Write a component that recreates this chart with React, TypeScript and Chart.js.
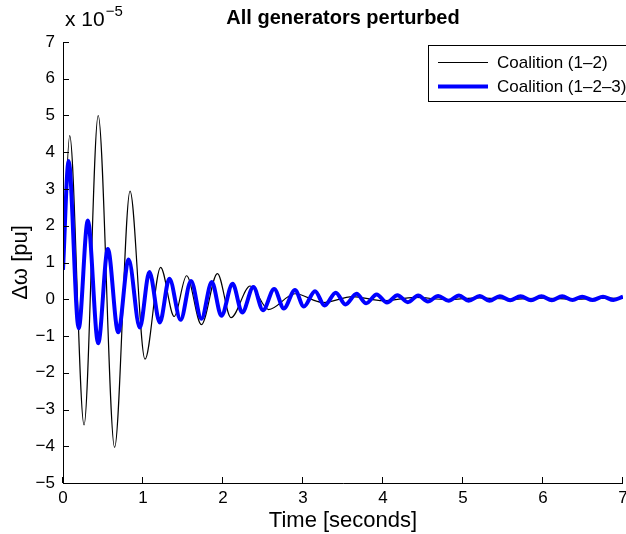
import { useEffect, useRef } from 'react';
import Chart from 'chart.js/auto';

// Values in units of 1e-5 pu
const blackTime = [0, 0.084, 0.263, 0.44, 0.645, 0.838, 1.025, 1.22, 1.39, 1.545, 1.73, 1.93, 2.1, 2.34, 2.57, 2.9, 3.25, 3.62, 4.0, 4.4, 4.8, 5.2, 5.6, 6.0, 6.4, 6.8, 7.0];
const blackValues = [0.8, 4.45, -3.42, 5.0, -4.03, 2.94, -1.63, 0.87, -0.47, 0.64, -0.69, 0.7, -0.5, 0.36, -0.28, 0.15, -0.09, 0.07, -0.04, 0.05, -0.01, 0.04, 0.0, 0.03, 0.0, 0.03, 0.02];

const blueTime = [0, 0.07, 0.196, 0.31, 0.44, 0.56, 0.69, 0.82, 0.96, 1.08, 1.21, 1.33, 1.47, 1.6, 1.73, 1.86, 1.98, 2.12, 2.24, 2.38, 2.5, 2.64, 2.76, 2.9, 3.01, 3.15, 3.27, 3.41, 3.53, 3.67, 3.79, 3.92, 4.05, 4.18, 4.31, 4.44, 4.56, 4.69, 4.82, 4.95, 5.07, 5.21, 5.33, 5.46, 5.59, 5.72, 5.85, 5.98, 6.11, 6.24, 6.37, 6.49, 6.62, 6.75, 6.88, 7.0];
const blueValues = [0.8, 3.76, -0.79, 2.14, -1.2, 1.37, -0.9, 1.08, -0.77, 0.74, -0.63, 0.56, -0.56, 0.5, -0.53, 0.47, -0.45, 0.42, -0.36, 0.33, -0.3, 0.28, -0.25, 0.25, -0.2, 0.22, -0.17, 0.18, -0.14, 0.15, -0.11, 0.13, -0.09, 0.11, -0.08, 0.1, -0.06, 0.09, -0.04, 0.1, -0.04, 0.09, -0.04, 0.08, -0.03, 0.08, -0.03, 0.08, -0.03, 0.08, -0.02, 0.07, -0.02, 0.07, -0.02, 0.07];

const seriesLabels = ['Coalition (1\u20132)', 'Coalition (1\u20132\u20133)'];
const seriesColors = ['#000000', '#0000ff'];
const seriesWidths = [1.2, 4];
const titleText = 'All generators perturbed';
const xTitle = 'Time [seconds]';
const yTitle = '\u0394\u03c9 [pu]';
const xTicks = [0, 1, 2, 3, 4, 5, 6, 7];
const yTicks = [-5, -4, -3, -2, -1, 0, 1, 2, 3, 4, 5, 6, 7];

const FONT = '"Liberation Sans", Arial, Helvetica, sans-serif';

export default function App() {
  const ref = useRef<HTMLCanvasElement>(null);
  useEffect(() => {
    const canvas = ref.current!;
    const overlay = {
      id: 'overlay',
      afterDraw(chart: any) {
        const ctx = chart.ctx as CanvasRenderingContext2D;
        const { left, right, top, bottom } = chart.chartArea;
        const xs = chart.scales.x;
        const ys = chart.scales.y;
        ctx.save();
        // axes
        ctx.strokeStyle = '#000';
        ctx.lineWidth = 1;
        ctx.beginPath();
        ctx.moveTo(left + 0.5, top);
        ctx.lineTo(left + 0.5, bottom + 0.5);
        ctx.lineTo(right, bottom + 0.5);
        ctx.stroke();
        // inward ticks
        ctx.beginPath();
        yTicks.forEach((v) => {
          const y = Math.round(ys.getPixelForValue(v)) + 0.5;
          ctx.moveTo(left, y);
          ctx.lineTo(left + 6, y);
        });
        xTicks.forEach((v) => {
          const x = Math.round(xs.getPixelForValue(v)) - 0.5;
          ctx.moveTo(x, bottom);
          ctx.lineTo(x, bottom - 6);
        });
        ctx.stroke();
        // title
        ctx.fillStyle = '#000';
        ctx.textBaseline = 'middle';
        ctx.textAlign = 'center';
        ctx.font = `bold 20px ${FONT}`;
        ctx.fillText(titleText, (left + right) / 2, 18);
        // exponent
        ctx.textAlign = 'left';
        ctx.font = `21px ${FONT}`;
        ctx.fillText('x 10', 65, 20);
        const w = ctx.measureText('x 10').width;
        ctx.font = `15px ${FONT}`;
        ctx.fillText('\u22125', 65 + w + 1, 12);
        // axis titles
        ctx.textAlign = 'center';
        ctx.font = `22px ${FONT}`;
        ctx.fillText(xTitle, (left + right) / 2, 521);
        ctx.save();
        ctx.translate(21, (top + bottom) / 2);
        ctx.rotate(-Math.PI / 2);
        ctx.fillText(yTitle, 0, 0);
        ctx.restore();
        // legend
        ctx.fillStyle = '#fff';
        ctx.fillRect(428, 45, 220, 56);
        ctx.strokeStyle = '#000';
        ctx.lineWidth = 1;
        ctx.strokeRect(428.5, 45.5, 220, 56);
        const rows = [62.5, 86.5];
        seriesLabels.forEach((lab, i) => {
          ctx.strokeStyle = seriesColors[i];
          ctx.lineWidth = seriesWidths[i];
          ctx.beginPath();
          ctx.moveTo(438, rows[i]);
          ctx.lineTo(488, rows[i]);
          ctx.stroke();
          ctx.fillStyle = '#000';
          ctx.textAlign = 'left';
          ctx.font = `17px ${FONT}`;
          ctx.fillText(lab, 497, rows[i] + 1);
        });
        ctx.restore();
      },
    };
    const chart = new Chart(canvas, {
      type: 'line',
      data: {
        datasets: [
          {
            label: seriesLabels[0],
            data: blackTime.map((x, i) => ({ x, y: blackValues[i] })),
            borderColor: seriesColors[0],
            borderWidth: seriesWidths[0],
            pointRadius: 0,
            cubicInterpolationMode: 'monotone',
            fill: false,
            order: 2,
          },
          {
            label: seriesLabels[1],
            data: blueTime.map((x, i) => ({ x, y: blueValues[i] })),
            borderColor: seriesColors[1],
            borderWidth: seriesWidths[1],
            pointRadius: 0,
            cubicInterpolationMode: 'monotone',
            fill: false,
            order: 1,
          },
        ],
      },
      options: {
        responsive: false,
        animation: false,
        devicePixelRatio: 1,
        layout: { padding: { top: 42, right: 3, left: 0, bottom: 0 } },
        plugins: { legend: { display: false }, title: { display: false }, tooltip: { enabled: false } },
        scales: {
          x: {
            type: 'linear',
            min: 0,
            max: 7,
            afterBuildTicks: (s: any) => { s.ticks = xTicks.map((v) => ({ value: v })); },
            ticks: { color: '#000', font: { family: FONT, size: 17 }, padding: 5, maxRotation: 0, autoSkip: false },
            grid: { display: false, drawTicks: false },
            border: { display: false },
            afterFit: (s: any) => { s.height = 51; s.paddingLeft = 0; s.paddingRight = 0; },
          },
          y: {
            type: 'linear',
            min: -5,
            max: 7,
            afterBuildTicks: (s: any) => { s.ticks = yTicks.map((v) => ({ value: v })); },
            ticks: {
              color: '#000',
              font: { family: FONT, size: 17 },
              padding: 8,
              autoSkip: false,
              callback: (v: any) => (Number(v) < 0 ? '\u2212' + Math.abs(Number(v)) : String(v)),
            },
            grid: { display: false, drawTicks: false },
            border: { display: false },
            afterFit: (s: any) => { s.width = 63; s.paddingTop = 0; s.paddingBottom = 0; },
          },
        },
      },
      plugins: [overlay],
    });
    return () => chart.destroy();
  }, []);
  return (
    <div style={{ position: 'fixed', left: 0, top: 0, width: 626, height: 534, background: '#fff' }}>
      <canvas ref={ref} width={626} height={534} style={{ width: 626, height: 534, display: 'block' }} />
    </div>
  );
}
